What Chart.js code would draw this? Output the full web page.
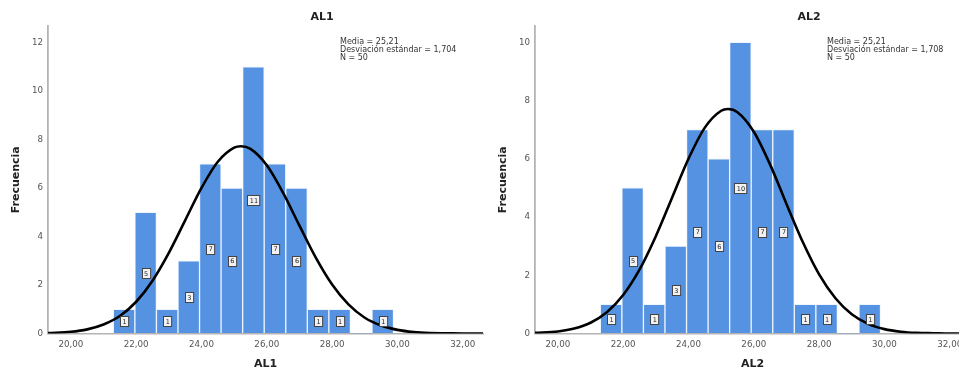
<!DOCTYPE html>
<html>
<head>
<meta charset="utf-8">
<script src="https://cdn.jsdelivr.net/npm/chart.js@4.4.1/dist/chart.umd.min.js"></script>
<style>
  html, body { margin: 0; padding: 0; background: #fff; width: 959px; height: 372px; overflow: hidden; }
  #wrap { position: relative; width: 959px; height: 372px; overflow: hidden; }
  .panel { position: absolute; top: 0; }
</style>
</head>
<body>
<div id="wrap">
  <div class="panel" style="left:0"><canvas id="al1" width="486" height="372"></canvas></div>
  <div class="panel" style="left:487px"><canvas id="al2" width="486" height="372"></canvas></div>
</div>
<script>
// Histogram bins (centre of each bin) and frequencies
const binCenters = [21.63, 22.29, 22.95, 23.61, 24.27, 24.93, 25.59, 26.25, 26.91, 27.57, 28.23, 28.89, 29.55];
const al1Counts  = [1, 5, 1, 3, 7, 6, 11, 7, 6, 1, 1, 0, 1];
const al2Counts  = [1, 5, 1, 3, 7, 6, 10, 7, 7, 1, 1, 0, 1];

// Normal curve overlay points
const curveX   = [19.3, 20, 20.5, 21, 21.5, 22, 22.5, 23, 23.5, 24, 24.5, 25, 25.21, 25.5, 26, 26.5, 27, 27.5, 28, 28.5, 29, 29.5, 30, 30.5, 31, 31.5, 32, 32.7];
const al1Curve = [0.02, 0.07, 0.17, 0.37, 0.72, 1.31, 2.18, 3.33, 4.67, 6.01, 7.09, 7.67, 7.73, 7.62, 6.94, 5.80, 4.45, 3.13, 2.02, 1.20, 0.65, 0.33, 0.15, 0.06, 0.02, 0.01, 0.00, 0.00];
const al2Curve = [0.02, 0.07, 0.17, 0.37, 0.73, 1.32, 2.19, 3.34, 4.67, 6.00, 7.07, 7.65, 7.71, 7.60, 6.93, 5.80, 4.45, 3.14, 2.03, 1.21, 0.66, 0.33, 0.15, 0.06, 0.02, 0.01, 0.00, 0.00];

// Axis ticks
const xTicks    = [20, 22, 24, 26, 28, 30, 32];
const al1YTicks = [0, 2, 4, 6, 8, 10, 12];
const al2YTicks = [0, 2, 4, 6, 8, 10];

// Summary text
const al1Stats = ['Media = 25,21', 'Desviación estándar = 1,704', 'N = 50'];
const al2Stats = ['Media = 25,21', 'Desviación estándar = 1,708', 'N = 50'];

const BAR_BLUE = '#5592E2';
const TEXT_DARK = '#222';
const TICK_GRAY = '#555';
const AXIS_GRAY = '#b4b4b4';

// Small boxed value labels at half height of each bar
const barValueLabels = {
  id: 'barValueLabels',
  afterDatasetsDraw(chart) {
    const meta = chart.getDatasetMeta(1);
    const yScale = chart.scales.y;
    const ctx = chart.ctx;
    const data = chart.data.datasets[1].data;
    ctx.save();
    ctx.font = '6.5px "DejaVu Sans"';
    ctx.textAlign = 'center';
    ctx.textBaseline = 'middle';
    meta.data.forEach((el, i) => {
      const v = data[i].y;
      if (!v) return;
      const cx = el.x;
      const cy = yScale.getPixelForValue(v / 2);
      const txt = String(v);
      const w = Math.max(8, ctx.measureText(txt).width + 4);
      const h = 10;
      ctx.fillStyle = '#f2f2f2';
      ctx.fillRect(Math.round(cx - w / 2) + 0.5, Math.round(cy - h / 2) + 0.5, w, h);
      ctx.strokeStyle = '#444';
      ctx.lineWidth = 1;
      ctx.strokeRect(Math.round(cx - w / 2) + 0.5, Math.round(cy - h / 2) + 0.5, w, h);
      ctx.fillStyle = '#222';
      ctx.fillText(txt, cx + 0.5, cy + 1);
    });
    ctx.restore();
  }
};

// Chart title and summary statistics block
const headerText = {
  id: 'headerText',
  afterDraw(chart, args, opts) {
    const ctx = chart.ctx;
    const ca = chart.chartArea;
    ctx.save();
    ctx.fillStyle = TEXT_DARK;
    ctx.font = 'bold 11px "DejaVu Sans"';
    ctx.textAlign = 'center';
    ctx.textBaseline = 'middle';
    ctx.fillText(opts.title, ca.left + ca.width * 0.63, 17);
    ctx.font = '8px "DejaVu Sans"';
    ctx.textAlign = 'left';
    ctx.fillStyle = '#333';
    opts.stats.forEach((line, i) => ctx.fillText(line, ca.left + 292, 42 + i * 8));
    ctx.restore();
  }
};

function makeHistogram(id, title, counts, curve, yTicks, yMax, stats) {
  return new Chart(document.getElementById(id), {
    type: 'bar',
    data: {
      datasets: [
        {
          type: 'line',
          data: curveX.map((x, i) => ({ x, y: curve[i] })),
          borderColor: '#000',
          borderWidth: 2.6,
          pointRadius: 0,
          fill: false,
          cubicInterpolationMode: 'monotone',
          order: 0
        },
        {
          type: 'bar',
          data: binCenters.map((x, i) => ({ x, y: counts[i] })),
          backgroundColor: BAR_BLUE,
          borderColor: 'rgba(235,243,253,0.85)',
          borderWidth: ctx => (ctx.raw && ctx.raw.y > 0 ? 1 : 0),
          borderSkipped: 'bottom',
          barPercentage: 1,
          categoryPercentage: 1,
          order: 1
        }
      ]
    },
    options: {
      responsive: false,
      animation: false,
      devicePixelRatio: 1,
      layout: { padding: { top: 26, right: 3, bottom: 0, left: 0 } },
      plugins: {
        legend: { display: false },
        tooltip: { enabled: false },
        headerText: { title, stats }
      },
      scales: {
        x: {
          type: 'linear',
          min: 19.3,
          max: 32.62,
          offset: false,
          afterBuildTicks: s => { s.ticks = xTicks.map(v => ({ value: v })); },
          afterFit: s => { s.height = 38.5; },
          grid: { display: true, drawOnChartArea: false, drawTicks: false, color: 'rgba(0,0,0,0)' },
          border: { display: true, color: AXIS_GRAY, width: 1.5 },
          ticks: {
            padding: 6,
            color: TICK_GRAY,
            font: { family: 'DejaVu Sans', size: 8.7 },
            maxRotation: 0,
            autoSkip: false,
            callback: v => v.toFixed(2).replace('.', ',')
          },
          title: {
            display: true,
            text: title,
            color: TEXT_DARK,
            font: { family: 'DejaVu Sans', size: 11, weight: 'bold' },
            padding: { top: 0, bottom: 1.4 }
          }
        },
        y: {
          min: 0,
          max: yMax,
          afterBuildTicks: s => { s.ticks = yTicks.map(v => ({ value: v })); },
          afterFit: s => { s.width = 48; },
          grid: { display: true, drawOnChartArea: false, drawTicks: false, color: 'rgba(0,0,0,0)' },
          border: { display: true, color: AXIS_GRAY, width: 1.8 },
          ticks: {
            padding: 5,
            color: TICK_GRAY,
            font: { family: 'DejaVu Sans', size: 8.7 },
            callback: v => String(v)
          },
          title: {
            display: true,
            text: 'Frecuencia',
            color: TEXT_DARK,
            font: { family: 'DejaVu Sans', size: 11, weight: 'bold' },
            padding: { top: 10, bottom: 0 }
          }
        }
      }
    },
    plugins: [barValueLabels, headerText]
  });
}

makeHistogram('al1', 'AL1', al1Counts, al1Curve, al1YTicks, 12.69, al1Stats);
makeHistogram('al2', 'AL2', al2Counts, al2Curve, al2YTicks, 10.56, al2Stats);
</script>
</body>
</html>
